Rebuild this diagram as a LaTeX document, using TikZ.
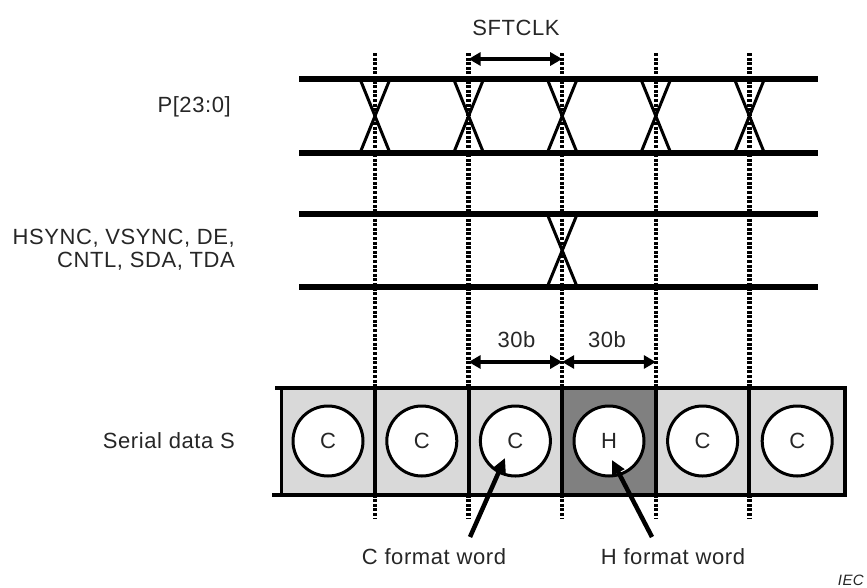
\documentclass[tikz,border=0pt]{standalone}
\usepackage{fontspec}
\setmainfont[LetterSpace=2.7]{Liberation Sans}
\usetikzlibrary{arrows.meta}
\definecolor{cellgray}{HTML}{D9D9D9}
\definecolor{hgray}{HTML}{808080}
\definecolor{txt}{HTML}{262626}
\begin{document}
\begin{tikzpicture}[x=1pt,y=-1pt,
  bus/.style={line width=6pt},
  crossline/.style={line width=3pt},
  clkline/.style={line width=4.5pt, dash pattern=on 3pt off 1.6pt},
  dimarrow/.style={line width=4pt, {Triangle[length=12pt,width=13pt]}-{Triangle[length=12pt,width=13pt]}},
  ptr/.style={line width=4.5pt, -{Triangle[length=14pt,width=13pt]}},
  lbl/.style={font=\fontsize{22}{23}\selectfont, text=txt, inner sep=0pt},
  word/.style={circle, draw, line width=3pt, fill=white, minimum size=70pt, inner sep=0pt, font=\fontsize{22}{23}\selectfont, text=txt},
  edge/.style={line width=4pt}
]
\useasboundingbox (0,0) rectangle (867,587);

% clock edge positions
\foreach \n/\x in {1/375,2/468.6,3/562.2,4/655.8,5/749.4}{
  \coordinate (t\n) at (\x,53);
  \coordinate (b\n) at (\x,518);
}

% P[23:0] bus
\coordinate (pL1) at (299,79);  \coordinate (pR1) at (818,79);
\coordinate (pL2) at (299,153); \coordinate (pR2) at (818,153);
\draw[bus] (pL1) -- (pR1);
\draw[bus] (pL2) -- (pR2);
\foreach \n/\x in {1/375,2/468.6,3/562.2,4/655.8,5/749.4}{
  \draw[crossline] (\x-15,79) -- (\x+15,153);
  \draw[crossline] (\x+15,79) -- (\x-15,153);
}

% control bus
\coordinate (hL1) at (299,214); \coordinate (hR1) at (818,214);
\coordinate (hL2) at (299,287); \coordinate (hR2) at (818,287);
\draw[bus] (hL1) -- (hR1);
\draw[bus] (hL2) -- (hR2);
\draw[crossline] (562.2-15,214) -- (562.2+15,287);
\draw[crossline] (562.2+15,214) -- (562.2-15,287);

% dotted clock lines
\foreach \n in {1,...,5}{ \draw[clkline] (t\n) -- (b\n); }

% serial cells
\fill[cellgray] (281,388) rectangle (845,495);
\fill[hgray] (562.2,388) rectangle (655.8,495);
\draw[edge] (275,388) -- (847,388);
\draw[edge] (272,495) -- (847,495);
\draw[line width=3pt] (281,388) -- (281,495);
\draw[edge] (845,388) -- (845,495);
\foreach \x in {375,468.6,562.2,655.8,749.4}{ \draw[edge] (\x,388) -- (\x,495); }

\node[word] (w1) at (328,441) {C};
\node[word] (w2) at (421.8,441) {C};
\node[word] (w3) at (515.4,441) {C};
\node[word] (w4) at (609,441) {H};
\node[word] (w5) at (702.6,441) {C};
\node[word] (w6) at (797.2,441) {C};

% dimension arrows
\coordinate (s1) at (468.6,59); \coordinate (s2) at (562.2,59);
\draw[dimarrow] (s1) -- (s2);
\node[lbl] (sft) at (516,28) {SFTCLK};

\coordinate (d1) at (468.6,362); \coordinate (d2) at (562.2,362); \coordinate (d3) at (655.8,362);
\draw[dimarrow] (d1) -- (d2);
\draw[dimarrow] (d2) -- (d3);
\node[lbl] (n30a) at (516.5,340) {30b};
\node[lbl] (n30b) at (607,340) {30b};

% signal labels
\node[lbl, anchor=east] (plbl) at (231,107) {P[23:0]};
\node[lbl, anchor=east, align=right] (hlbl) at (235,250) {HSYNC, VSYNC, DE,\\CNTL, SDA, TDA};
\node[lbl, anchor=east] (slbl) at (235,441) {Serial data S};

% word pointers
\node[lbl] (cfw) at (434,557) {C format word};
\node[lbl] (hfw) at (673,557) {H format word};
\coordinate (ctip) at (505,458);
\coordinate (htip) at (612,460);
\draw[ptr] (470,537) -- (ctip);
\draw[ptr] (652,537) -- (htip);

\node[font=\itshape\fontsize{15}{17}\selectfont, text=txt, inner sep=0pt, anchor=east] (iec) at (864,580) {IEC};
\end{tikzpicture}
\end{document}
